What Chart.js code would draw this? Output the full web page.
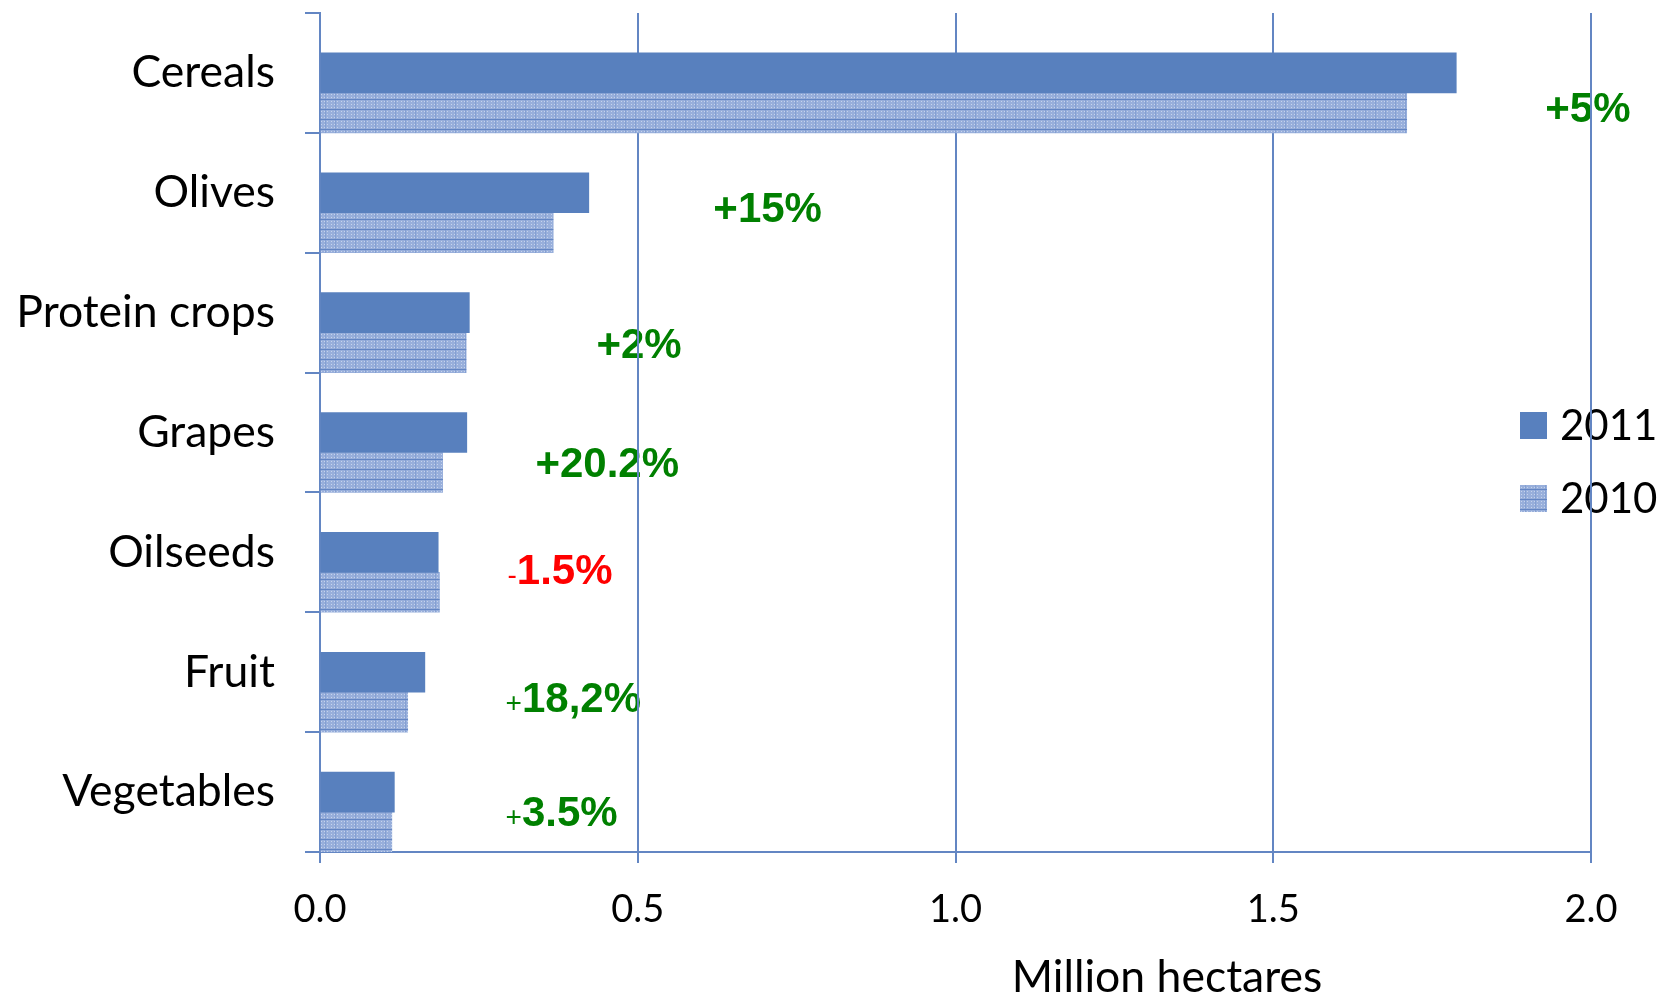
<!DOCTYPE html>
<html>
<head>
<meta charset="utf-8">
<script src="https://cdn.jsdelivr.net/npm/chart.js@4.4.1/dist/chart.umd.min.js"></script>
<style>
  html, body { margin: 0; padding: 0; background: #fff; }
</style>
</head>
<body>
<canvas id="chart" width="1659" height="997"></canvas>
<script>
// data (million hectares)
const categories = ["Cereals", "Olives", "Protein crops", "Grapes", "Oilseeds", "Fruit", "Vegetables"];
const values2011 = [1.788, 0.423, 0.235, 0.231, 0.186, 0.165, 0.117];
const values2010 = [1.710, 0.367, 0.230, 0.193, 0.188, 0.138, 0.113];
const seriesNames = ["2011", "2010"];

// change labels: sign, number, whether sign is printed small
const changeSign = ["+", "+", "+", "+", "-", "+", "+"];
const changeText = ["5%", "15%", "2%", "20.2%", "1.5%", "18,2%", "3.5%"];
const smallSign = [false, false, false, false, true, true, true];

// where each change label sits: x in axis units, y as offset from category centre
const changeAtX = [1.928, 0.619, 0.435, 0.339, 0.295, 0.292, 0.292];
const changeAtDy = [0.41, 0.24, 0.38, 0.37, 0.26, 0.33, 0.28];

const blue = "#5880be";
const gridBlue = "#6386c3";
const green = "#008000";
const red = "#ff0000";

function makePattern() {
  const p = document.createElement("canvas");
  p.width = 10;
  p.height = 10;
  const g = p.getContext("2d");
  g.fillStyle = "#98afdb";
  g.fillRect(0, 0, 10, 10);
  g.fillStyle = "#c6d3ec";
  for (let x = 1; x < 10; x += 3) {
    for (let y = 1; y < 10; y += 3) g.fillRect(x, y, 1, 1);
  }
  g.fillStyle = "#84a0d3";
  g.fillRect(5, 0, 1, 10);
  g.fillStyle = "#6486c4";
  g.fillRect(0, 9, 10, 1);
  return g.createPattern(p, "repeat");
}

const ctx = document.getElementById("chart").getContext("2d");
const pattern = makePattern();

// labels and legend go under the grid lines, as in the picture
const underlay = {
  id: "underlay",
  beforeDraw(chart) {
    const c = chart.ctx;
    const x = chart.scales.x;
    const y = chart.scales.y;
    c.save();
    c.textBaseline = "alphabetic";
    c.textAlign = "left";
    categories.forEach((_, i) => {
      let px = x.getPixelForValue(changeAtX[i]);
      const py = y.getPixelForValue(i + changeAtDy[i]);
      c.fillStyle = changeSign[i] === "-" ? red : green;
      if (smallSign[i]) {
        c.font = "28px 'Liberation Sans', Arial, sans-serif";
        c.fillText(changeSign[i], px, py);
        px += c.measureText(changeSign[i]).width;
        c.font = "bold 42px 'Liberation Sans', Arial, sans-serif";
        c.fillText(changeText[i], px, py);
      } else {
        c.font = "bold 42px 'Liberation Sans', Arial, sans-serif";
        c.fillText(changeSign[i] + changeText[i], px, py);
      }
    });

    // legend
    const fills = [blue, pattern];
    c.font = "42px Lato, sans-serif";
    c.textBaseline = "middle";
    seriesNames.forEach((name, i) => {
      const top = 412 + i * 73;
      c.fillStyle = fills[i];
      c.fillRect(1520, top, 27, 27);
      c.fillStyle = "#000";
      c.fillText(name, 1560, top + 14);
    });
    c.restore();
  },
  afterDraw(chart) {
    const c = chart.ctx;
    c.save();
    c.font = "44.5px Lato, sans-serif";
    c.fillStyle = "#000";
    c.textAlign = "center";
    c.textBaseline = "alphabetic";
    c.fillText("Million hectares", 1167, 992);
    c.restore();
  }
};

function build() {
  new Chart(ctx, {
    type: "bar",
    data: {
      labels: categories,
      datasets: [
        { label: "", data: categories.map(() => null) },
        { label: seriesNames[0], data: values2011, backgroundColor: blue },
        { label: seriesNames[1], data: values2010, backgroundColor: pattern }
      ]
    },
    options: {
      indexAxis: "y",
      responsive: false,
      animation: false,
      events: [],
      layout: { padding: { top: 13, right: 68, bottom: 0, left: 0 } },
      datasets: { bar: { categoryPercentage: 1, barPercentage: 1, borderWidth: 0 } },
      plugins: { legend: { display: false }, tooltip: { enabled: false } },
      scales: {
        x: {
          min: 0,
          max: 2,
          ticks: {
            stepSize: 0.5,
            color: "#000",
            padding: 24,
            font: { family: "Lato", size: 38 },
            callback: (v) => Number(v).toFixed(1)
          },
          grid: { color: gridBlue, lineWidth: 2, tickLength: 11 },
          border: { color: gridBlue, width: 2 },
          afterFit: (s) => { s.height = 145; }
        },
        y: {
          ticks: {
            color: "#000",
            padding: 30,
            font: { family: "Lato", size: 44.5 }
          },
          grid: { color: gridBlue, lineWidth: 2, tickLength: 15, drawOnChartArea: false, offset: true },
          border: { color: gridBlue, width: 2 },
          afterFit: (s) => {
            s.width = 320;
            s.paddingTop = 0;
            s.paddingBottom = 0;
          }
        }
      }
    },
    plugins: [underlay]
  });
}

Promise.all([
  document.fonts.load("42px Lato"),
  document.fonts.load("bold 42px 'Liberation Sans'"),
  document.fonts.load("28px 'Liberation Sans'")
]).then(build, build);
</script>
</body>
</html>
